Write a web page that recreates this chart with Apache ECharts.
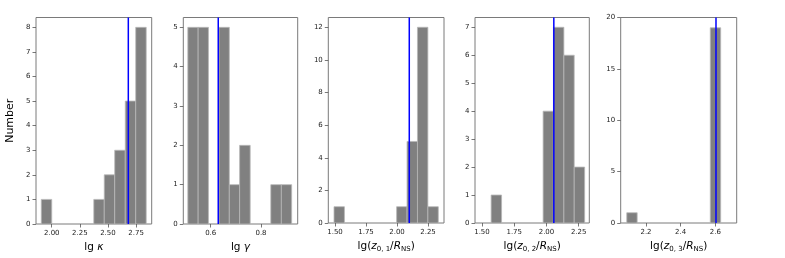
<!DOCTYPE html>
<html>
<head>
<meta charset="utf-8">
<script src="https://cdn.jsdelivr.net/npm/echarts@6/dist/echarts.min.js"></script>
<style>html,body{margin:0;padding:0;background:#fff}#c{width:785px;height:258px}</style>
</head>
<body>
<div id="c"></div>
<script>
// ---- data ----
const edgesKappa = [1.907, 2.000, 2.094, 2.187, 2.280, 2.374, 2.467, 2.560, 2.654, 2.747, 2.840];
const countsKappa = [1, 0, 0, 0, 0, 1, 2, 3, 5, 8];
const markKappa = 2.681;

const edgesGamma = [0.509, 0.550, 0.591, 0.633, 0.674, 0.715, 0.757, 0.798, 0.839, 0.881, 0.922];
const countsGamma = [5, 5, 0, 5, 1, 2, 0, 0, 1, 1];
const markGamma = 0.630;

const edgesZ1 = [1.492, 1.576, 1.660, 1.744, 1.828, 1.913, 1.997, 2.081, 2.165, 2.249, 2.333];
const countsZ1 = [1, 0, 0, 0, 0, 0, 1, 5, 12, 1];
const markZ1 = 2.099;

const edgesZ2 = [1.571, 1.652, 1.732, 1.813, 1.893, 1.974, 2.054, 2.135, 2.215, 2.296];
const countsZ2 = [1, 0, 0, 0, 0, 4, 7, 6, 2];
const markZ2 = 2.057;

const edgesZ3 = [2.089, 2.149, 2.209, 2.270, 2.330, 2.390, 2.450, 2.511, 2.571, 2.631];
const countsZ3 = [1, 0, 0, 0, 0, 0, 0, 0, 19];
const markZ3 = 2.604;

const xTicksKappa = ['2.00', '2.25', '2.50', '2.75'];
const xTicksGamma = ['0.6', '0.8'];
const xTicksZ1 = ['1.50', '1.75', '2.00', '2.25'];
const xTicksZ2 = ['1.50', '1.75', '2.00', '2.25'];
const xTicksZ3 = ['2.2', '2.4', '2.6'];
const yTicksKappa = ['0', '1', '2', '3', '4', '5', '6', '7', '8'];
const yTicksGamma = ['0', '1', '2', '3', '4', '5'];
const yTicksZ1 = ['0', '2', '4', '6', '8', '10', '12'];
const yTicksZ2 = ['0', '1', '2', '3', '4', '5', '6', '7'];
const yTicksZ3 = ['0', '5', '10', '15', '20'];

const yAxisTitle = 'Number';
const xTitles = [
  '{n|lg }{i|κ}',
  '{n|lg }{i|γ}',
  '{n|lg(}{i|z}{s|0, 1}{n|/}{i|R}{s|NS}{n|)}',
  '{n|lg(}{i|z}{s|0, 2}{n|/}{i|R}{s|NS}{n|)}',
  '{n|lg(}{i|z}{s|0, 3}{n|/}{i|R}{s|NS}{n|)}'
];

// ---- layout ----
const panels = [
  {edges: edgesKappa, counts: countsKappa, mark: markKappa, xt: xTicksKappa, yt: yTicksKappa, xmin: 1.860, xmax: 2.889, ymax: 8.4, left: 36, width: 115.7},
  {edges: edgesGamma, counts: countsGamma, mark: markGamma, xt: xTicksGamma, yt: yTicksGamma, xmin: 0.491, xmax: 0.946, ymax: 5.25, left: 183.3, width: 114.4},
  {edges: edgesZ1, counts: countsZ1, mark: markZ1, xt: xTicksZ1, yt: yTicksZ1, xmin: 1.446, xmax: 2.379, ymax: 12.6, left: 328.3, width: 115.7},
  {edges: edgesZ2, counts: countsZ2, mark: markZ2, xt: xTicksZ2, yt: yTicksZ2, xmin: 1.446, xmax: 2.332, ymax: 7.35, left: 475, width: 114.3},
  {edges: edgesZ3, counts: countsZ3, mark: markZ3, xt: xTicksZ3, yt: yTicksZ3, xmin: 2.054, xmax: 2.7235, ymax: 20, left: 620.7, width: 116}
];

const FONT = 'DejaVu Sans';
const grid = [], xAxis = [], yAxis = [], series = [];

function lookup(list) {
  return function (v) {
    for (const s of list) { if (Math.abs(Number(s) - v) < 1e-9) return s; }
    return '';
  };
}

panels.forEach((p, i) => {
  grid.push({left: p.left, width: p.width, top: 17.5, height: 206.5, show: true, borderColor: '#7a7a7a', borderWidth: 1, backgroundColor: 'transparent'});
  const xv = p.xt.map(Number), yv = p.yt.map(Number);
  xAxis.push({
    type: 'value', gridIndex: i, min: p.xmin, max: p.xmax,
    axisLine: {show: false}, splitLine: {show: false},
    axisTick: {show: true, inside: false, length: 3.5, customValues: xv, lineStyle: {color: '#555', width: 0.8}},
    axisLabel: {customValues: xv, formatter: lookup(p.xt), margin: 6, fontSize: 7, color: '#222', fontFamily: FONT, showMinLabel: true, showMaxLabel: true},
    name: xTitles[i], nameLocation: 'middle', nameGap: 17,
    nameTextStyle: {
      fontFamily: FONT, color: '#000', fontSize: 10.5, verticalAlign: 'top',
      rich: {
        n: {fontSize: 10.5, fontFamily: FONT, color: '#000'},
        i: {fontSize: 10.5, fontFamily: FONT, fontStyle: 'italic', color: '#000'},
        s: {fontSize: 7, fontFamily: FONT, color: '#000', padding: [6, 0, 0, 0]}
      }
    }
  });
  yAxis.push({
    type: 'value', gridIndex: i, min: 0, max: p.ymax,
    axisLine: {show: false}, splitLine: {show: false},
    axisTick: {show: true, inside: false, length: 3.5, customValues: yv, lineStyle: {color: '#555', width: 0.8}},
    axisLabel: {customValues: yv, formatter: lookup(p.yt), margin: 5.5, fontSize: 7, color: '#222', fontFamily: FONT, showMinLabel: true, showMaxLabel: true},
    name: i === 0 ? yAxisTitle : '', nameLocation: 'middle', nameRotate: 90, nameGap: 20,
    nameTextStyle: {fontFamily: FONT, fontSize: 11, color: '#000'}
  });
  const data = [];
  for (let k = 0; k < p.counts.length; k++) {
    if (p.counts[k] > 0) data.push([p.edges[k], p.edges[k + 1], p.counts[k]]);
  }
  series.push({
    type: 'custom', xAxisIndex: i, yAxisIndex: i, data: data, clip: true,
    encode: {x: [0, 1], y: 2},
    renderItem: function (params, api) {
      const a = api.coord([api.value(0), 0]);
      const b = api.coord([api.value(1), api.value(2)]);
      return {
        type: 'rect',
        shape: {x: a[0], y: b[1], width: b[0] - a[0], height: a[1] - b[1]},
        style: {fill: '#808080', stroke: '#b8b8b8', lineWidth: 0.8}
      };
    },
    silent: true, animation: false
  });
  series.push({
    type: 'line', xAxisIndex: i, yAxisIndex: i,
    data: [[p.mark, 0], [p.mark, p.ymax]],
    showSymbol: false, symbol: 'none',
    lineStyle: {color: '#0000ff', width: 1.5},
    silent: true, animation: false, z: 5
  });
});

const chart = echarts.init(document.getElementById('c'), null, {renderer: 'canvas'});
chart.setOption({animation: false, grid, xAxis, yAxis, series});
</script>
</body>
</html>
